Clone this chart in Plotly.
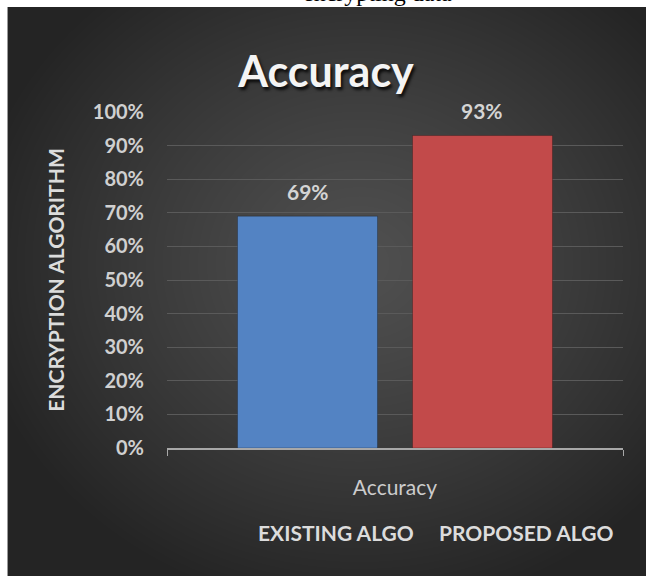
import base64, zlib, struct
import numpy as np
import plotly.graph_objects as go

categories = ["Accuracy"]
series_names = ["EXISTING ALGO", "PROPOSED ALGO"]
series_values = [[0.69], [0.93]]
series_colors = ["#5383c3", "#c24a4a"]
tick_vals = [i / 10 for i in range(11)]
tick_text = [f"{i*10}%" for i in range(11)]

W, H = 646, 576
ML, MR, MT, MB = 167, 23, 112, 128
PW, PH = W - ML - MR, H - MT - MB
BARGAP, GROUPGAP = 0.2325, 0.2


def gradient_png(w, h):
    yy, xx = np.mgrid[0:h, 0:w].astype(float)
    cx, cy = w * 0.55, h * 0.45
    d = np.sqrt(((xx - cx) / (w * 0.62)) ** 2 + ((yy - cy) / (h * 0.62)) ** 2)
    d = np.clip(d, 0, 1)
    v = (80 - 44 * d ** 1.2).astype(np.uint8)
    img = np.stack([v, v, v], axis=-1)
    raw = b"".join(b"\x00" + img[r].tobytes() for r in range(h))

    def chunk(t, data):
        c = struct.pack(">I", len(data)) + t + data
        return c + struct.pack(">I", zlib.crc32(t + data) & 0xFFFFFFFF)

    png = b"\x89PNG\r\n\x1a\n" + chunk(b"IHDR", struct.pack(">IIBBBBB", w, h, 8, 2, 0, 0, 0))
    png += chunk(b"IDAT", zlib.compress(raw, 9)) + chunk(b"IEND", b"")
    return "data:image/png;base64," + base64.b64encode(png).decode()


def px_x(p):
    return (p - ML) / PW


def px_y(p):
    return (H - MB - p) / PH


fig = go.Figure()
n = len(series_names)
slot = PW * (1 - BARGAP) / n
for i, (name, vals, col) in enumerate(zip(series_names, series_values, series_colors)):
    fig.add_trace(go.Bar(
        x=categories, y=vals, name=name,
        marker=dict(color=col, line=dict(color="rgba(0,0,0,0.25)", width=1)),
        showlegend=False,
    ))
    offset = (i - (n - 1) / 2) * slot
    for c, v in zip(categories, vals):
        fig.add_annotation(x=c, y=v, xref="x", yref="y", text=f"{v*100:.0f}%",
                           showarrow=False, xshift=offset, yshift=25, yanchor="middle",
                           font=dict(family="Lato", size=21, color="#d4d4d4", weight="bold"))

bg_left, bg_top = 8, 7
fig.add_layout_image(dict(
    source=gradient_png(W - bg_left, H - bg_top), xref="paper", yref="paper",
    x=px_x(bg_left), y=px_y(bg_top), sizex=(W - bg_left) / PW, sizey=(H - bg_top) / PH,
    xanchor="left", yanchor="top", sizing="stretch", layer="below",
))
fig.add_shape(type="line", xref="paper", yref="paper",
              x0=px_x(7.5), x1=px_x(7.5), y0=px_y(bg_top), y1=px_y(H),
              line=dict(color="#9a9a9a", width=1))

# Legend texts (no swatches in reference)
legend_x = [336, 526]
for name, lx in zip(series_names, legend_x):
    fig.add_annotation(text=name, xref="paper", yref="paper", x=px_x(lx), y=px_y(532),
                       showarrow=False, xanchor="center", yanchor="middle",
                       font=dict(family="Lato", size=21, color="#dcdcdc", weight="bold"))

fig.add_annotation(text="encrypting data", xref="paper", yref="paper",
                   x=px_x(377), y=px_y(8), showarrow=False, xanchor="center", yanchor="bottom",
                   font=dict(family="Liberation Serif", size=24, color="#000000"))

fig.update_layout(
    width=W, height=H, margin=dict(l=ML, r=MR, t=MT, b=MB),
    paper_bgcolor="#ffffff", plot_bgcolor="rgba(0,0,0,0)",
    barmode="group", bargap=BARGAP, bargroupgap=GROUPGAP,
    title=dict(text="Accuracy", xref="paper", x=px_x(326), xanchor="center",
               y=1 - 72 / H, yanchor="middle",
               font=dict(family="Lato", size=43, color="#f4f4f4", weight="bold",
                         shadow="2px 3px 3px rgba(0,0,0,0.8)")),
    xaxis=dict(showgrid=False, showline=True, linecolor="#a8a8a8", linewidth=1.5,
               ticks="outside", tickson="boundaries", ticklen=6, tickcolor="#a8a8a8",
               tickfont=dict(family="Lato", size=21, color="#cccccc"),
               ticklabelstandoff=20, range=[-0.5, 0.5]),
    yaxis=dict(range=[0, 1], tickvals=tick_vals, ticktext=tick_text,
               showgrid=True, gridcolor="#5a5a5a", gridwidth=1, zeroline=False,
               showline=False, ticks="", ticklabelstandoff=22,
               tickfont=dict(family="Lato", size=20, color="#d0d0d0", weight="bold"),
               title=dict(text="ENCRYPTION ALGORITHM", standoff=22,
                          font=dict(family="Lato", size=21, color="#dcdcdc", weight="bold"))),
)

fig.write_html("out.html")
